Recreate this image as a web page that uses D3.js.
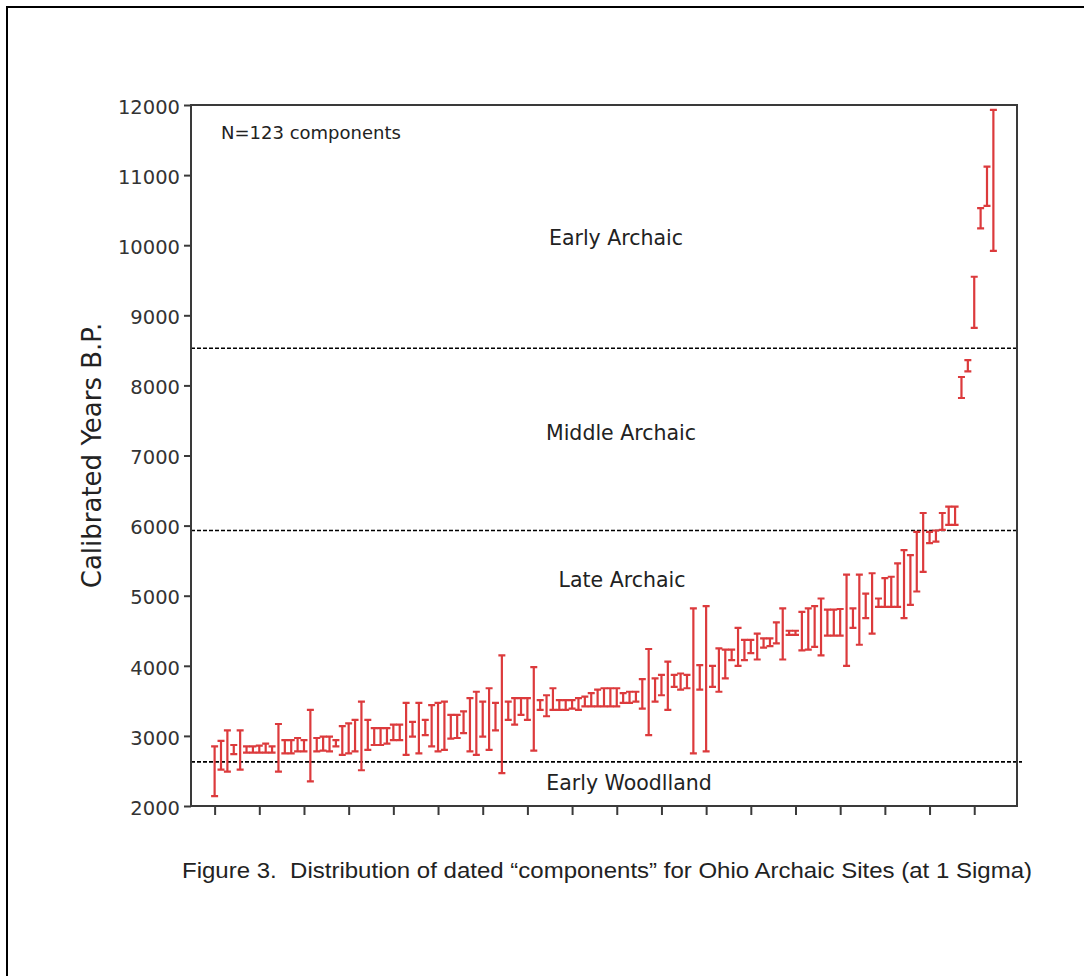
<!DOCTYPE html>
<html lang="en">

<head>
    <meta charset="UTF-8">
    <title>Ohio Archaic components</title>
    <script src="https://cdn.jsdelivr.net/npm/d3@7"></script>
    <style>
        body { margin: 0; background: #fff; }
    </style>
</head>

<body>
    <div id="my_dataviz"></div>

    <script>
        // 1 sigma calibrated ranges, one pair per dated component (sorted)
        var lowValues = [
            2140, 2520, 2490, 2740, 2520, 2760, 2760, 2760, 2760, 2760,
            2490, 2750, 2750, 2780, 2780, 2350, 2780, 2790, 2780, 2850,
            2730, 2750, 2780, 2510, 2800, 2870, 2870, 2890, 2940, 2940,
            2730, 2990, 2750, 3010, 2850, 2780, 2800, 2960, 2970, 3040,
            2780, 2730, 2990, 2800, 3080, 2470, 3230, 3160, 3300, 3230,
            2790, 3370, 3280, 3370, 3370, 3370, 3390, 3370, 3420, 3420,
            3420, 3420, 3420, 3420, 3470, 3470, 3490, 3390, 3010, 3490,
            3580, 3370, 3700, 3660, 3680, 2750, 3660, 2780, 3700, 3630,
            3820, 4080, 4000, 4080, 4180, 4090, 4260, 4280, 4320, 4090,
            4440, 4440, 4220, 4230, 4270, 4150, 4430, 4430, 4430, 4000,
            4540, 4300, 4680, 4460, 4840, 4840, 4840, 4840, 4680, 4870,
            5060, 5340, 5750, 5770, 5940, 6010, 6010, 7820, 8200, 8820,
            10240, 10560, 9920
        ];
        var highValues = [
            2850, 2930, 3080, 2870, 3080, 2850, 2850, 2860, 2890, 2850,
            3170, 2940, 2940, 2970, 2940, 3370, 2970, 2990, 2990, 2940,
            3140, 3180, 3230, 3490, 3230, 3110, 3110, 3110, 3160, 3160,
            3470, 3200, 3470, 3230, 3440, 3470, 3490, 3300, 3300, 3350,
            3540, 3630, 3490, 3680, 3470, 4150, 3490, 3540, 3540, 3540,
            3980, 3510, 3580, 3680, 3510, 3510, 3510, 3540, 3560, 3610,
            3660, 3680, 3680, 3680, 3610, 3630, 3630, 3810, 4240, 3820,
            3870, 4060, 3870, 3890, 3870, 4820, 4010, 4850, 4000, 4250,
            4230, 4230, 4540, 4370, 4370, 4460, 4390, 4390, 4620, 4820,
            4500, 4500, 4770, 4820, 4850, 4960, 4800, 4800, 4810, 5300,
            4820, 5300, 5030, 5320, 4960, 5250, 5270, 5460, 5650, 5580,
            5910, 6180, 5910, 5930, 6180, 6270, 6270, 8120, 8360, 9550,
            10530, 11120, 11930
        ];

        // period boundaries (dashed lines) and the labels between them
        var boundaryValues = [8530, 5930, 2630];
        var periodNames = ["Early Archaic", "Middle Archaic", "Late Archaic", "Early Woodlland"];
        var periodLabelValues = [10100, 7320, 5220, 2330];

        var yTicks = [2000, 3000, 4000, 5000, 6000, 7000, 8000, 9000, 10000, 11000, 12000];
        var xTicks = [0, 7, 14, 21, 28, 35, 42, 49, 56, 63, 70, 77, 84, 91, 98, 105, 112, 119];

        var noteText = "N=123 components";
        var yTitle = "Calibrated Years B.P.";
        var caption = "Figure 3.  Distribution of dated \u201ccomponents\u201d for Ohio Archaic Sites (at 1 Sigma)";

        var data = lowValues.map(function (d, i) {
            return { index: i, low: d, high: highValues[i] };
        });

        var W = 1084, H = 976;
        var plot = { left: 191, right: 1017, top: 105, bottom: 806 };
        var red = "#dc3a3c";
        var ink = "#3a3a3a";

        var svg = d3.select("#my_dataviz")
            .append("svg")
            .attr("width", W)
            .attr("height", H)
            .style("display", "block");

        // page frame (top + left edges only, like the scan)
        svg.append("path")
            .attr("d", "M7," + H + "V7H" + W)
            .attr("fill", "none")
            .attr("stroke", "#000")
            .attr("stroke-width", 2);

        var x = d3.scaleLinear()
            .domain([-3.7, 125.7])
            .range([plot.left, plot.right]);

        var y = d3.scaleLinear()
            .domain([2000, 12000])
            .range([plot.bottom, plot.top]);

        // Y axis
        var yAxis = svg.append("g")
            .attr("transform", "translate(" + plot.left + ",0)")
            .call(d3.axisLeft(y).tickValues(yTicks).tickSize(7).tickPadding(4).tickFormat(d3.format("d")));
        yAxis.select(".domain").remove();
        yAxis.selectAll("line").attr("stroke", ink).attr("stroke-width", 2);
        yAxis.selectAll("text")
            .attr("fill", "#333")
            .attr("dy", "0.42em")
            .style("font-family", "'DejaVu Sans', sans-serif")
            .style("font-size", "19.5px");

        // X axis - ticks only
        var xAxis = svg.append("g")
            .attr("transform", "translate(0," + plot.bottom + ")")
            .call(d3.axisBottom(x).tickValues(xTicks).tickSize(9).tickFormat(""));
        xAxis.select(".domain").remove();
        xAxis.selectAll("line").attr("stroke", ink).attr("stroke-width", 2);

        // dashed period boundaries
        svg.selectAll(".boundary")
            .data(boundaryValues)
            .enter()
            .append("line")
            .attr("x1", plot.left)
            .attr("x2", function (d, i) { return i == 2 ? plot.right + 5 : plot.right; })
            .attr("y1", function (d) { return y(d); })
            .attr("y2", function (d) { return y(d); })
            .attr("stroke", "#000")
            .attr("stroke-width", 1.6)
            .attr("stroke-dasharray", "4,2");

        svg.selectAll(".period")
            .data(periodNames)
            .enter()
            .append("text")
            .attr("x", function (d, i) { return [616, 621, 622, 629][i]; })
            .attr("y", function (d, i) { return y(periodLabelValues[i]); })
            .attr("text-anchor", "middle")
            .attr("dominant-baseline", "central")
            .style("font-family", "'DejaVu Sans', sans-serif")
            .style("font-size", "20.5px")
            .attr("fill", "#222")
            .text(function (d) { return d; });

        // error bars
        var bars = svg.append("g")
            .attr("stroke", red)
            .attr("stroke-width", 2.2)
            .attr("fill", "none");

        bars.selectAll("path")
            .data(data)
            .enter()
            .append("path")
            .attr("d", function (d) {
                var cx = x(d.index), y0 = y(d.low), y1 = y(d.high);
                return "M" + (cx - 3.5) + "," + y1 + "H" + (cx + 3.5) +
                    "M" + cx + "," + y1 + "V" + y0 +
                    "M" + (cx - 3.5) + "," + y0 + "H" + (cx + 3.5);
            });

        // plot frame
        svg.append("rect")
            .attr("x", plot.left)
            .attr("y", plot.top)
            .attr("width", plot.right - plot.left)
            .attr("height", plot.bottom - plot.top)
            .attr("fill", "none")
            .attr("stroke", ink)
            .attr("stroke-width", 2);

        svg.append("text")
            .attr("x", 221)
            .attr("y", 139)
            .style("font-family", "'DejaVu Sans', sans-serif")
            .style("font-size", "18px")
            .attr("fill", "#222")
            .text(noteText);

        svg.append("text")
            .attr("transform", "translate(92," + ((plot.top + plot.bottom) / 2) + ")rotate(-90)")
            .attr("text-anchor", "middle")
            .attr("dominant-baseline", "central")
            .style("font-family", "'DejaVu Sans', sans-serif")
            .style("font-size", "26px")
            .attr("fill", "#222")
            .text(yTitle);

        svg.append("text")
            .attr("x", 182)
            .attr("y", 878)
            .attr("textLength", 850)
            .attr("lengthAdjust", "spacingAndGlyphs")
            .style("white-space", "pre")
            .style("font-family", "'Liberation Sans', Arial, sans-serif")
            .style("font-size", "22px")
            .attr("fill", "#222")
            .text(caption);
    </script>
</body>

</html>
